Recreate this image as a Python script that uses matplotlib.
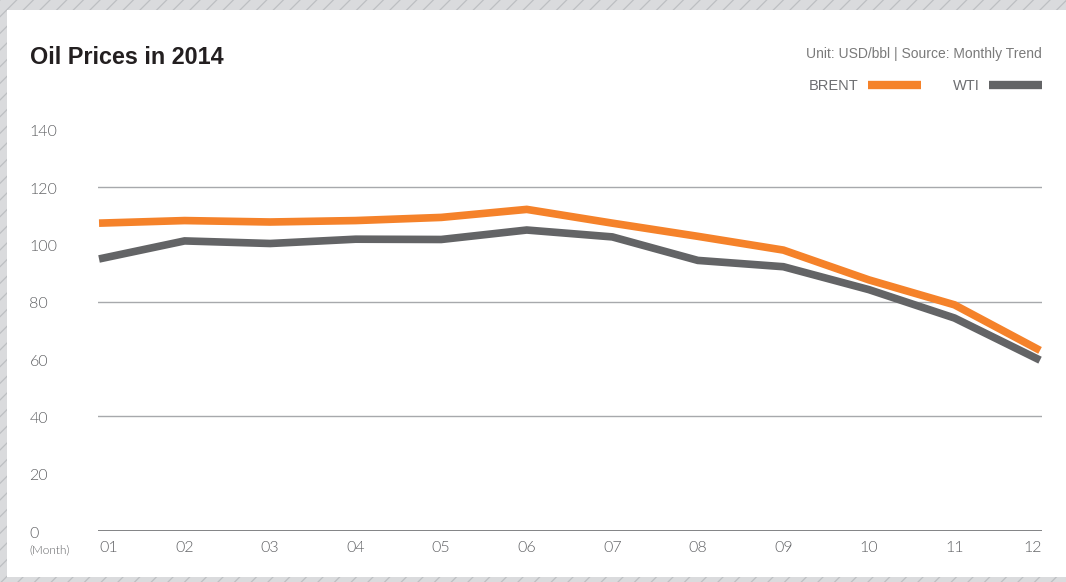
import matplotlib
matplotlib.use("Agg")
import matplotlib.pyplot as plt
from matplotlib.patches import Rectangle
from matplotlib.lines import Line2D
import matplotlib.transforms as mtransforms

months = ["01", "02", "03", "04", "05", "06", "07", "08", "09", "10", "11", "12"]
brent = [107.4, 108.3, 107.8, 108.3, 109.4, 112.2, 107.4, 102.8, 98.0, 87.6, 78.9, 63.0]
wti = [94.9, 101.2, 100.3, 101.8, 101.7, 105.0, 102.6, 94.4, 92.2, 84.2, 74.3, 59.6]
yticks = [0, 20, 40, 60, 80, 100, 120, 140]
grid_values = [40, 80, 120]

W, H = 1066, 582
fig = plt.figure(figsize=(W / 100, H / 100), dpi=100)

# hatched background and white panel
plt.rcParams['hatch.linewidth'] = 0.9
bg = Rectangle((0, 0), 1, 1, transform=fig.transFigure, facecolor="#dadbdd",
               edgecolor="#bdbfc2", hatch="//", linewidth=0, zorder=-10)
fig.add_artist(bg)
panel = Rectangle((7 / W, (H - 577) / H), 1 - 7 / W, (577 - 10) / H,
                  transform=fig.transFigure, facecolor="white", edgecolor="none", zorder=-9)
fig.add_artist(panel)

def fx(px):
    return px / W

def fy(py):
    return (H - py) / H

ax_left, ax_right = 98, 1042
ax_top, ax_bottom = 129.7, 531
ax = fig.add_axes([fx(ax_left), fy(ax_bottom), (ax_right - ax_left) / W, (ax_bottom - ax_top) / H])
ax.set_facecolor("none")
x = list(range(1, len(months) + 1))
ax.set_xlim(0.988, 12.023)
ax.set_ylim(0, 140)
for s in ax.spines.values():
    s.set_visible(False)
ax.set_xticks([])
ax.set_yticks([])

for g in grid_values:
    ax.axhline(g, color="#a7a9ac", lw=1.0, zorder=1)
ax.axhline(0, color="#6d6e71", lw=1.2, zorder=1)

ax.plot(x, wti, color="#636466", lw=5.5, solid_joinstyle="miter", solid_capstyle="butt", zorder=3)
ax.plot(x, brent, color="#f5822a", lw=5.5, solid_joinstyle="miter", solid_capstyle="butt", zorder=4)

tick_color = "#5f6063"
tick_font = ["Lato", "Liberation Sans"]

# y tick labels (shifted 2.5 px down)
shift = mtransforms.ScaledTranslation(0, -2.5 / 100, fig.dpi_scale_trans)
ytrans = mtransforms.blended_transform_factory(fig.transFigure, ax.transData) + shift
for v in yticks:
    ax.text(fx(29.5), v, str(v), transform=ytrans, ha="left", va="center",
            fontsize=11.5, color=tick_color, family=tick_font, fontweight=300)

# x tick labels
xtrans = mtransforms.blended_transform_factory(ax.transData, fig.transFigure)
for i, m in enumerate(months):
    ha = "center"
    xv = x[i]
    if i == 0:
        ha = "left"
    elif i == len(months) - 1:
        ha = "right"
        xv = ax.get_xlim()[1]
    ax.text(xv, fy(548.5), m, transform=xtrans, ha=ha, va="center",
            fontsize=11.5, color=tick_color, family=tick_font, fontweight=300)
fig.text(fx(29.5), fy(550), "(Month)", ha="left", va="center", fontsize=8.5,
         color=tick_color, family=tick_font, fontweight=300)

# title and subtitle
fig.text(fx(30), fy(64.5), "Oil Prices in 2014", ha="left", va="baseline",
         fontsize=16.8, fontweight="bold", color="#231f20", family="Liberation Sans")
fig.text(fx(1042), fy(58.3), "Unit: USD/bbl | Source: Monthly Trend", ha="right", va="baseline",
         fontsize=10, color="#7a7a7a", family="Liberation Sans")

# legend
fig.text(fx(859), fy(90.5), "BRENT", ha="right", va="baseline", fontsize=10.5,
         color="#6d6e71", family="Liberation Sans")
fig.add_artist(Line2D([fx(868), fx(921)], [fy(85), fy(85)], transform=fig.transFigure,
                      color="#f5822a", lw=6, solid_capstyle="butt"))
fig.text(fx(980), fy(90.5), "WTI", ha="right", va="baseline", fontsize=10.5,
         color="#6d6e71", family="Liberation Sans")
fig.add_artist(Line2D([fx(989), fx(1042)], [fy(85), fy(85)], transform=fig.transFigure,
                      color="#636466", lw=6, solid_capstyle="butt"))

fig.savefig("out.png", dpi=100)
